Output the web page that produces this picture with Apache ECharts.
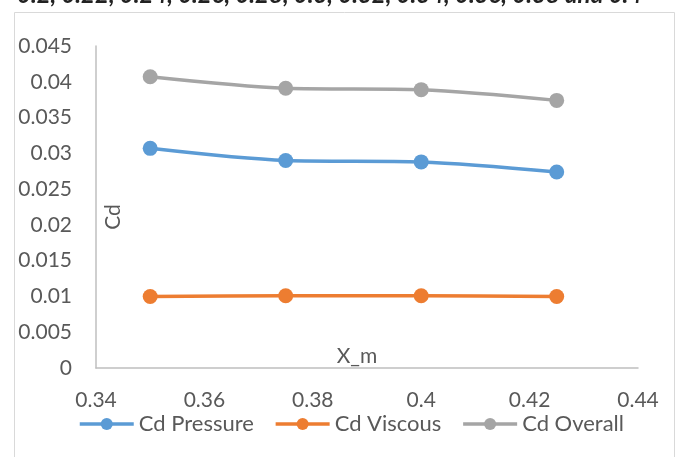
<!DOCTYPE html>
<html>
<head>
<meta charset="utf-8">
<script src="https://cdn.jsdelivr.net/npm/echarts@6/dist/echarts.min.js"></script>
<style>html,body{margin:0;padding:0;background:#fff;}#c{width:678px;height:457px;}</style>
</head>
<body>
<div id="c"></div>
<script>
const xValues = [0.35, 0.375, 0.4, 0.425];
const cdPressure = [0.0307, 0.0290, 0.0288, 0.0274];
const cdViscous = [0.0100, 0.0101, 0.0101, 0.0100];
const cdOverall = [0.0407, 0.0391, 0.0389, 0.0374];
const seriesNames = ['Cd Pressure', 'Cd Viscous', 'Cd Overall'];
const xAxisName = 'X_m';
const yAxisName = 'Cd';
const captionText = '0.2, 0.22, 0.24, 0.26, 0.28, 0.3, 0.32, 0.34, 0.36, 0.38 and 0.4';

const FONT = 'Lato';
const TXT = '#595959';
const colors = ['#5B9BD5', '#ED7D31', '#A5A5A5'];
const dataSets = [cdPressure, cdViscous, cdOverall];

const chart = echarts.init(document.getElementById('c'), null, {renderer: 'canvas'});
chart.setOption({
  backgroundColor: '#fff',
  animation: false,
  textStyle: {fontFamily: FONT},
  graphic: [
    {type: 'rect', shape: {x: 14.5, y: 12.5, width: 660, height: 470}, style: {fill: '#fff', stroke: '#D9D9D9', lineWidth: 1}, z: -10},
    {type: 'text', left: 17, top: -17, style: {text: captionText, font: 'italic bold 24px ' + FONT, fill: '#222'}},
    {type: 'text', x: 357, y: 356, style: {text: xAxisName, font: '21px ' + FONT, fill: TXT, textAlign: 'center', textVerticalAlign: 'middle'}},
    {type: 'text', x: 113, y: 217, rotation: Math.PI / 2, style: {text: yAxisName, font: '21px ' + FONT, fill: TXT, textAlign: 'center', textVerticalAlign: 'middle'}}
  ],
  grid: {left: 96, right: 40, top: 46, bottom: 89, containLabel: false, outerBoundsMode: 'none'},
  legend: {
    data: seriesNames,
    bottom: 17,
    left: 73,
    itemWidth: 54,
    itemHeight: 15,
    itemGap: 20,
    lineStyle: {width: 3.5},
    textStyle: {fontFamily: FONT, fontSize: 22, color: TXT}
  },
  xAxis: {
    type: 'value', min: 0.34, max: 0.44, interval: 0.02,
    axisLine: {show: true, lineStyle: {color: '#BFBFBF', width: 1.5}},
    axisTick: {show: false},
    splitLine: {show: false},
    axisLabel: {margin: 22, fontFamily: FONT, fontSize: 21, color: TXT, formatter: v => String(+v.toFixed(2))}
  },
  yAxis: {
    type: 'value', min: 0, max: 0.045, interval: 0.005,
    axisLine: {show: true, lineStyle: {color: '#BFBFBF', width: 1.5}},
    axisTick: {show: false},
    splitLine: {show: false},
    axisLabel: {margin: 24, fontFamily: FONT, fontSize: 21, color: TXT, formatter: v => String(+v.toFixed(3))}
  },
  series: seriesNames.map((n, i) => ({
    name: n, type: 'line', smooth: 0.3,
    data: xValues.map((x, j) => [x, dataSets[i][j]]),
    symbol: 'circle', symbolSize: 15,
    lineStyle: {color: colors[i], width: 3.5},
    itemStyle: {color: colors[i]}
  }))
});
</script>
</body>
</html>
